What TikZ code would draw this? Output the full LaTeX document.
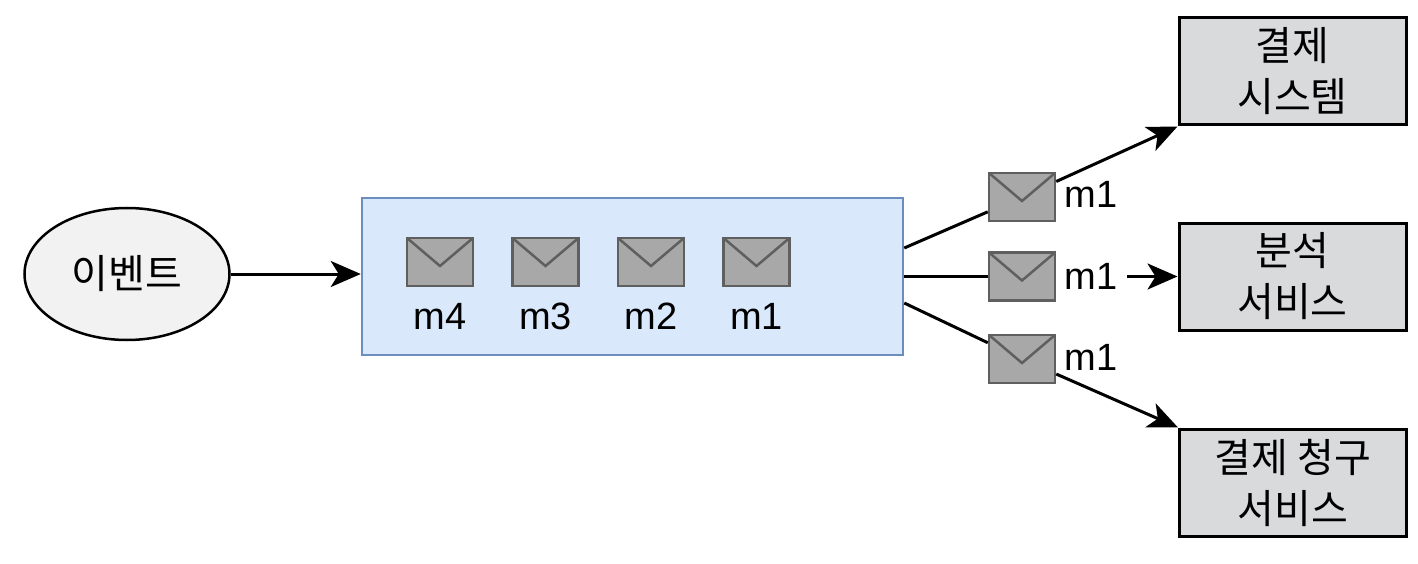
\documentclass[tikz,border=0pt]{standalone}
\usepackage{fontspec}
\setmainfont{Liberation Sans}
\newfontfamily\kr{Noto Sans CJK KR}
\usetikzlibrary{arrows.meta,shapes.geometric}
\definecolor{queuefill}{HTML}{DAE8FC}
\definecolor{queueline}{HTML}{6C8EBF}
\definecolor{msgfill}{HTML}{A8A8A8}
\definecolor{msgline}{HTML}{5F5F5F}
\definecolor{svcfill}{HTML}{D9DADC}
\definecolor{evtfill}{HTML}{F2F2F2}

\begin{document}
\begin{tikzpicture}[x=1pt,y=-1pt,line width=3pt,
  msg/.style={draw=msgline,fill=msgfill,line width=2.5pt,minimum width=66pt,minimum height=48pt,inner sep=0pt,
    path picture={\draw[msgline,line width=2.5pt] (path picture bounding box.north west) -- ([yshift=-4pt]path picture bounding box.center) -- (path picture bounding box.north east);}},
  lbl/.style={font=\fontsize{38}{40}\selectfont,inner sep=0pt},
  svc/.style={draw,fill=svcfill,minimum width=227pt,minimum height=107pt,align=center,font=\kr\fontsize{40}{51}\selectfont},
  arr/.style={-{Stealth[length=30pt,width=26pt,inset=8pt]}}]
\useasboundingbox (0,0) rectangle (1418,564);
\draw node[ellipse,draw,line width=2.5pt,fill=evtfill,minimum width=205pt,minimum height=132pt,inner sep=0pt,font=\kr\fontsize{40}{51}\selectfont] (evt) at (127,274) {이벤트};
\draw node[draw=queueline,fill=queuefill,line width=2.5pt,minimum width=541pt,minimum height=157pt] (queue) at (632.5,276.5) {};
\foreach \n/\x in {4/440,3/545.5,2/651,1/756.5} {
  \draw node[msg] (q\n) at (\x,262) {};
  \draw node[lbl] (ql\n) at (\x,316) {m\n};
}
\draw node[svc] (pay) at (1292.5,71.5) {결제\\시스템};
\draw node[svc] (ana) at (1292.5,276.5) {분석\\서비스};
\draw node[svc] (bill) at (1293,482.5) {결제 청구\\서비스};
\draw node[msg] (o1) at (1022,197) {};
\draw node[msg] (o2) at (1022,276.5) {};
\draw node[msg] (o3) at (1022,359) {};
\draw node[lbl] (ol1) at (1091,194) {m1};
\draw node[lbl] (ol2) at (1091,276.5) {m1};
\draw node[lbl] (ol3) at (1091,357) {m1};
\draw[arr] (evt) -- (evt -| queue.west);
\draw ([yshift=28.5pt]queue.east) -- (o1);
\draw (queue.east) -- (o2);
\draw ([yshift=-26.5pt]queue.east) -- (o3);
\draw[arr] (o1) -- (pay.south west);
\draw[arr] ([xshift=8pt]ol2.east) -- (ana);
\draw[arr] (o3) -- (bill.north west);
\end{tikzpicture}
\end{document}
